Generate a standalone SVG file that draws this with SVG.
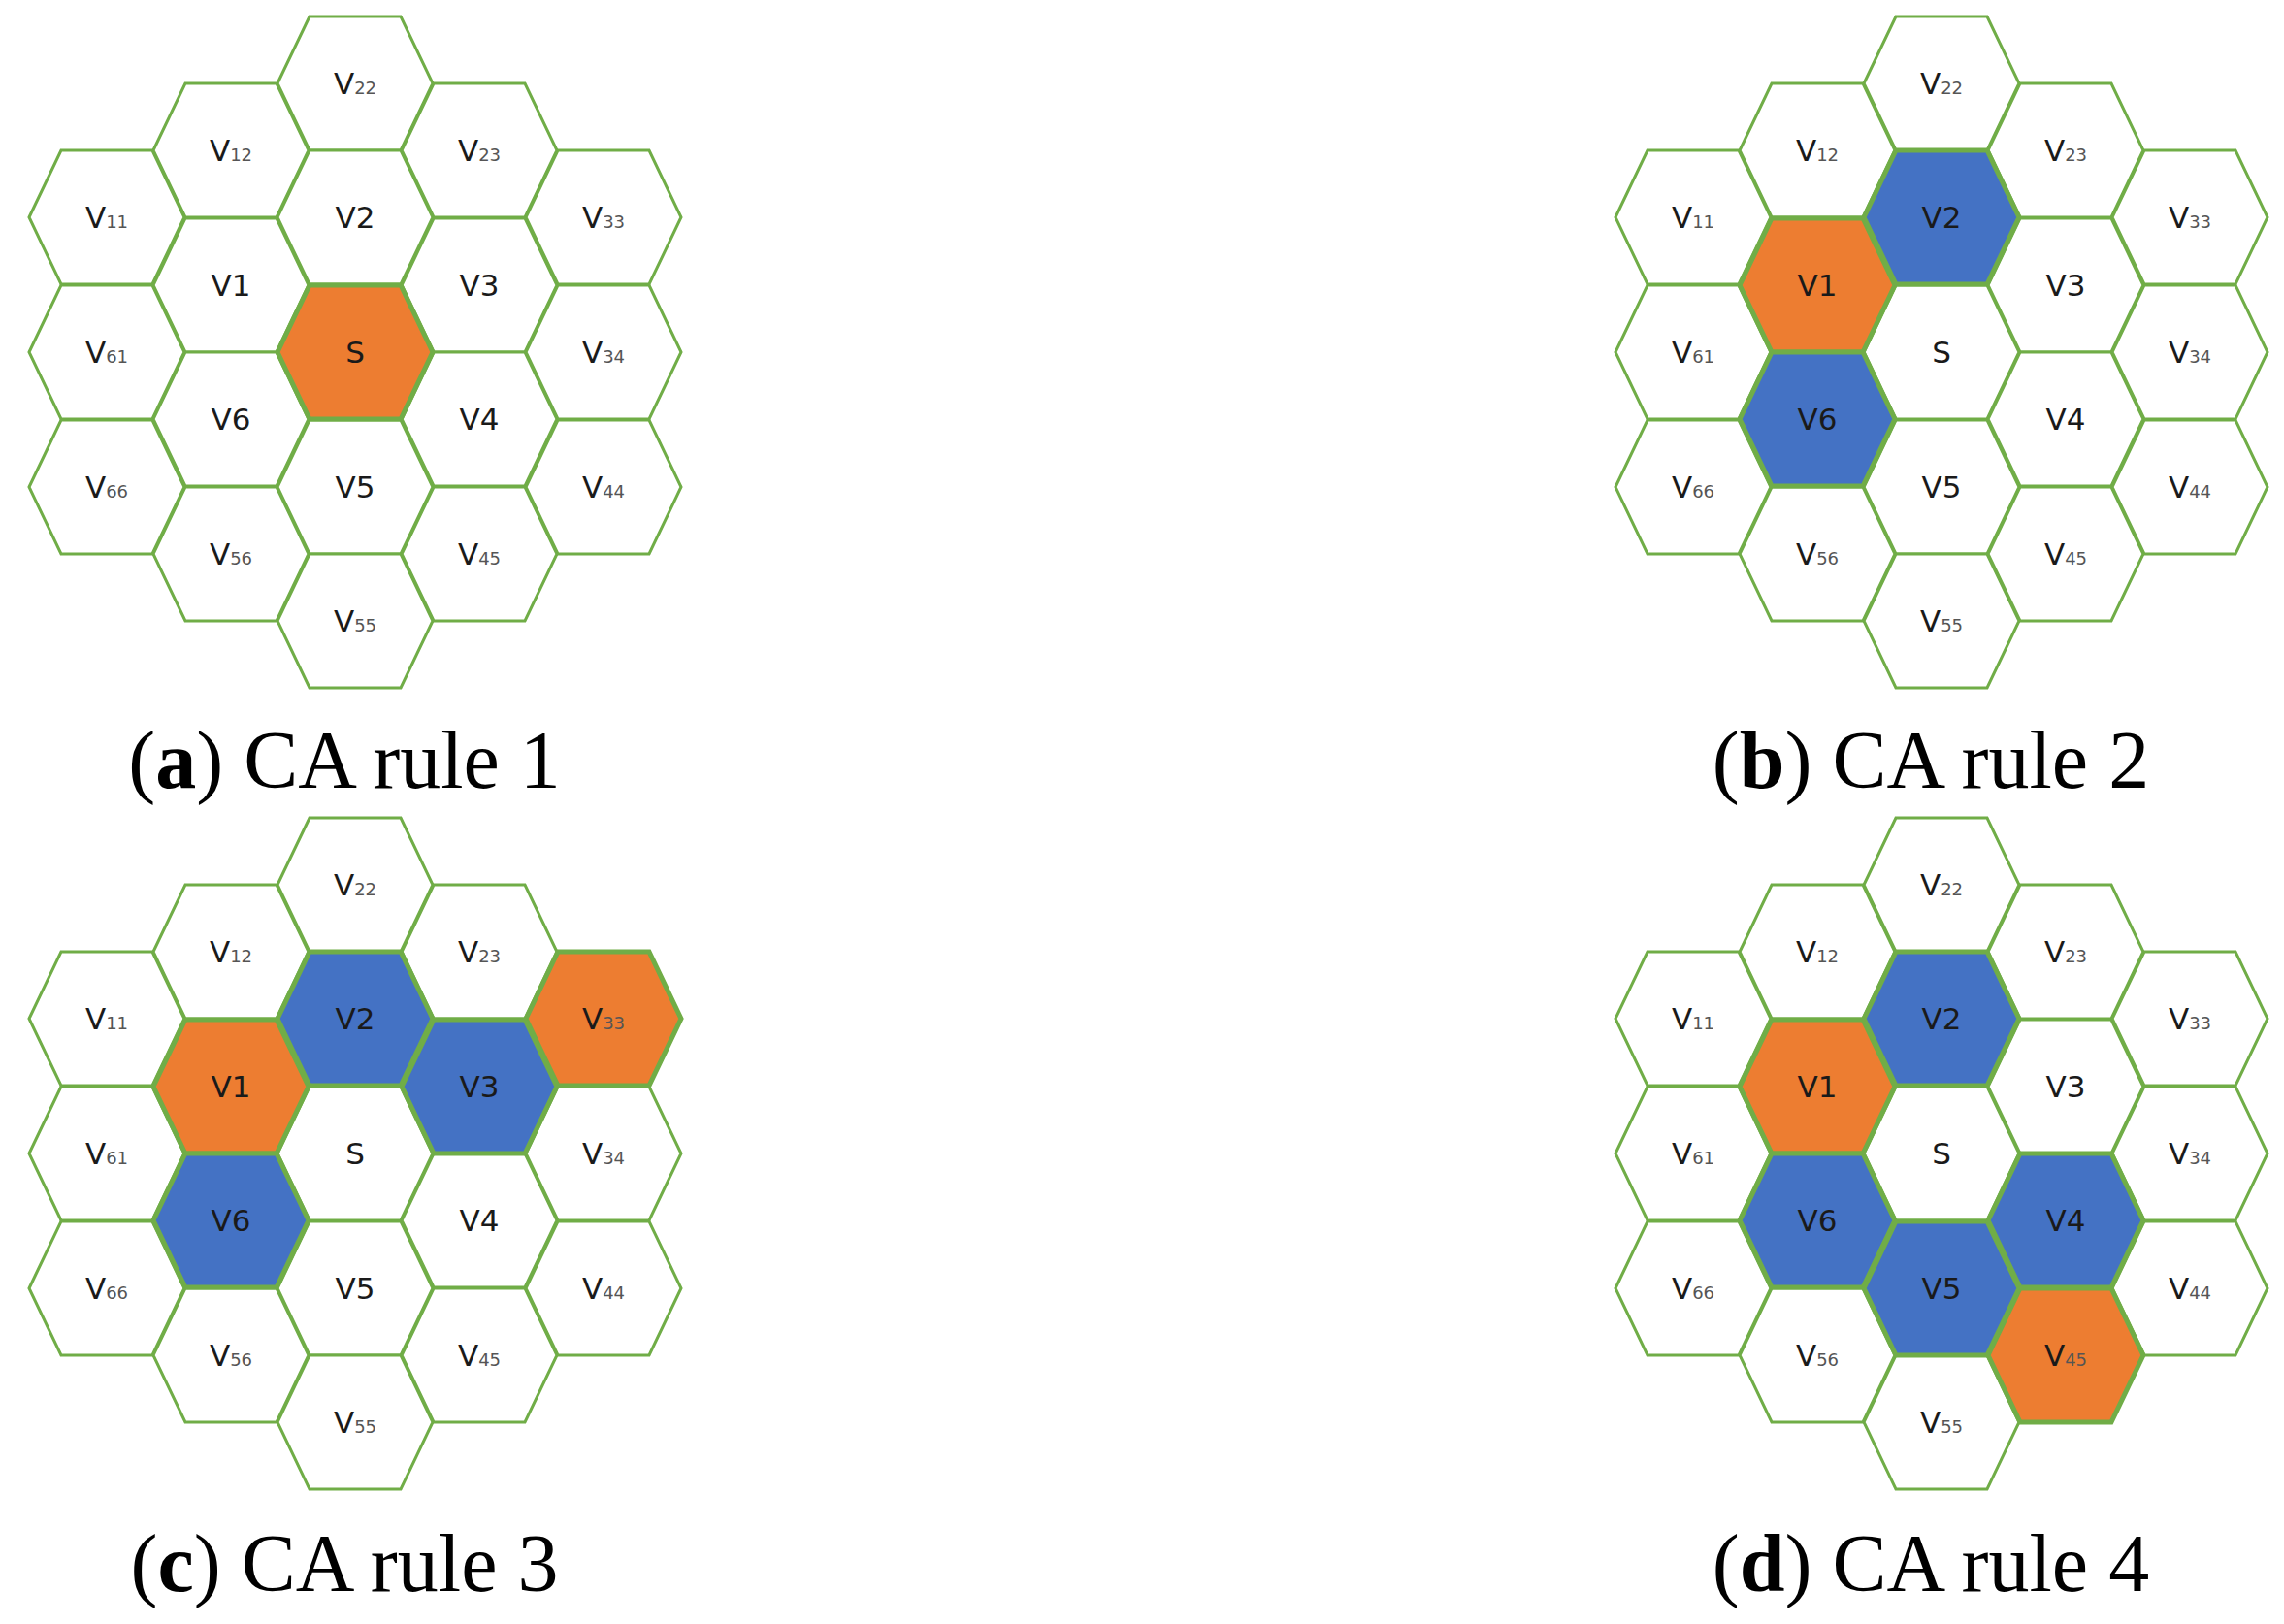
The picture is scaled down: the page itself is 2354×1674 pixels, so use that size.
<svg xmlns="http://www.w3.org/2000/svg" xmlns:xlink="http://www.w3.org/1999/xlink" width="2354" height="1674" viewBox="0 0 2354 1674">
<style>
.h{fill:#fff;stroke:#70AD47;stroke-width:3}
.o{fill:#ED7D31;stroke:#70AD47;stroke-width:5}
.b{fill:#4472C4;stroke:#70AD47;stroke-width:5}
text.l{font-family:"DejaVu Sans",sans-serif;font-size:31px;fill:#1a1a1a;text-anchor:middle}
tspan.s{font-size:18px;fill:#555}
text.c{font-family:"Liberation Serif",serif;font-size:84px;fill:#000;text-anchor:middle}
</style>
<defs>
<path id="hx" d="M-80,0 L-47,-69 L47,-69 L80,0 L47,69 L-47,69Z"/>
<g id="grid">
<g id="V22"><use href="#hx" class="h" x="0" y="-277"/><text class="l" x="0" y="-266">V<tspan class="s">22</tspan></text></g>
<g id="V2"><use href="#hx" class="h" x="0" y="-139"/></g>
<g id="S"><use href="#hx" class="h" x="0" y="0"/></g>
<g id="V5"><use href="#hx" class="h" x="0" y="139"/></g>
<g id="V55"><use href="#hx" class="h" x="0" y="277"/><text class="l" x="0" y="288">V<tspan class="s">55</tspan></text></g>
<g id="V12"><use href="#hx" class="h" x="-128" y="-208"/><text class="l" x="-128" y="-197">V<tspan class="s">12</tspan></text></g>
<g id="V1"><use href="#hx" class="h" x="-128" y="-69"/></g>
<g id="V6"><use href="#hx" class="h" x="-128" y="69"/></g>
<g id="V56"><use href="#hx" class="h" x="-128" y="208"/><text class="l" x="-128" y="219">V<tspan class="s">56</tspan></text></g>
<g id="V23"><use href="#hx" class="h" x="128" y="-208"/><text class="l" x="128" y="-197">V<tspan class="s">23</tspan></text></g>
<g id="V3"><use href="#hx" class="h" x="128" y="-69"/></g>
<g id="V4"><use href="#hx" class="h" x="128" y="69"/></g>
<g id="V45"><use href="#hx" class="h" x="128" y="208"/></g>
<g id="V11"><use href="#hx" class="h" x="-256" y="-139"/><text class="l" x="-256" y="-128">V<tspan class="s">11</tspan></text></g>
<g id="V61"><use href="#hx" class="h" x="-256" y="0"/><text class="l" x="-256" y="11">V<tspan class="s">61</tspan></text></g>
<g id="V66"><use href="#hx" class="h" x="-256" y="139"/><text class="l" x="-256" y="150">V<tspan class="s">66</tspan></text></g>
<g id="V33"><use href="#hx" class="h" x="256" y="-139"/></g>
<g id="V34"><use href="#hx" class="h" x="256" y="0"/><text class="l" x="256" y="11">V<tspan class="s">34</tspan></text></g>
<g id="V44"><use href="#hx" class="h" x="256" y="139"/><text class="l" x="256" y="150">V<tspan class="s">44</tspan></text></g>
</g>
<text id="tV2" class="l" x="0" y="-128">V2</text>
<text id="tS" class="l" x="0" y="11">S</text>
<text id="tV5" class="l" x="0" y="150">V5</text>
<text id="tV1" class="l" x="-128" y="-58">V1</text>
<text id="tV6" class="l" x="-128" y="80">V6</text>
<text id="tV3" class="l" x="128" y="-58">V3</text>
<text id="tV4" class="l" x="128" y="80">V4</text>
<text id="tV45" class="l" x="128" y="219">V<tspan class="s">45</tspan></text>
<text id="tV33" class="l" x="256" y="-128">V<tspan class="s">33</tspan></text>
</defs>

<g id="panel-a" transform="translate(366,363)">
<use href="#grid"/>
<g id="a-S"><use href="#hx" class="o"/></g>
<use href="#tV2"/><use href="#tS"/><use href="#tV5"/><use href="#tV1"/><use href="#tV6"/><use href="#tV3"/><use href="#tV4"/><use href="#tV45"/><use href="#tV33"/>
</g>
<text class="c" x="355" y="812">(<tspan font-weight="bold">a</tspan>) CA rule 1</text>

<g id="panel-b" transform="translate(2001,363)">
<use href="#grid"/>
<g id="b-V1"><use href="#hx" class="o" x="-128" y="-69"/></g>
<g id="b-V2"><use href="#hx" class="b" x="0" y="-139"/></g>
<g id="b-V6"><use href="#hx" class="b" x="-128" y="69"/></g>
<use href="#tV2"/><use href="#tS"/><use href="#tV5"/><use href="#tV1"/><use href="#tV6"/><use href="#tV3"/><use href="#tV4"/><use href="#tV45"/><use href="#tV33"/>
</g>
<text class="c" x="1990" y="812">(<tspan font-weight="bold">b</tspan>) CA rule 2</text>

<g id="panel-c" transform="translate(366,1189)">
<use href="#grid"/>
<g id="c-V1"><use href="#hx" class="o" x="-128" y="-69"/></g>
<g id="c-V33"><use href="#hx" class="o" x="256" y="-139"/></g>
<g id="c-V2"><use href="#hx" class="b" x="0" y="-139"/></g>
<g id="c-V3"><use href="#hx" class="b" x="128" y="-69"/></g>
<g id="c-V6"><use href="#hx" class="b" x="-128" y="69"/></g>
<use href="#tV2"/><use href="#tS"/><use href="#tV5"/><use href="#tV1"/><use href="#tV6"/><use href="#tV3"/><use href="#tV4"/><use href="#tV45"/><use href="#tV33"/>
</g>
<text class="c" x="355" y="1640">(<tspan font-weight="bold">c</tspan>) CA rule 3</text>

<g id="panel-d" transform="translate(2001,1189)">
<use href="#grid"/>
<g id="d-V1"><use href="#hx" class="o" x="-128" y="-69"/></g>
<g id="d-V45"><use href="#hx" class="o" x="128" y="208"/></g>
<g id="d-V2"><use href="#hx" class="b" x="0" y="-139"/></g>
<g id="d-V6"><use href="#hx" class="b" x="-128" y="69"/></g>
<g id="d-V5"><use href="#hx" class="b" x="0" y="139"/></g>
<g id="d-V4"><use href="#hx" class="b" x="128" y="69"/></g>
<use href="#tV2"/><use href="#tS"/><use href="#tV5"/><use href="#tV1"/><use href="#tV6"/><use href="#tV3"/><use href="#tV4"/><use href="#tV45"/><use href="#tV33"/>
</g>
<text class="c" x="1990" y="1640">(<tspan font-weight="bold">d</tspan>) CA rule 4</text>
<g id="connectors"/>
</svg>
